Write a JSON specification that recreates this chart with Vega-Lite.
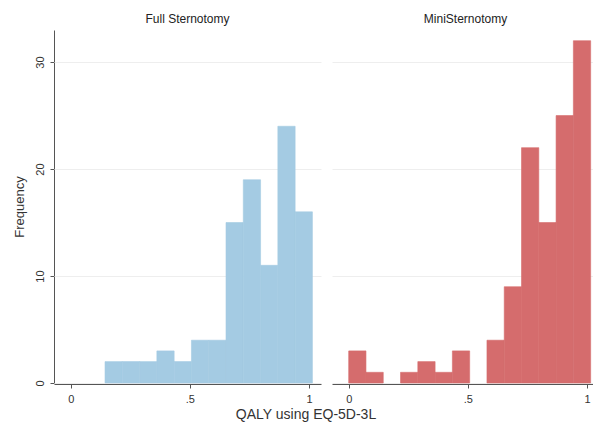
{
  "$schema": "https://vega.github.io/schema/vega-lite/v6.json",
  "background": "white",
  "padding": {"left": 13, "top": 13, "right": 0, "bottom": 3},
  "title": {"text": "QALY using EQ-5D-3L", "orient": "bottom", "anchor": "middle", "font": "Liberation Sans", "fontSize": 14, "fontWeight": "normal", "color": "#333", "offset": 4},
  "data": {"values": [
    {"panel": "Full Sternotomy", "x0": 0.144, "x1": 0.2165, "count": 2},
    {"panel": "Full Sternotomy", "x0": 0.2165, "x1": 0.289, "count": 2},
    {"panel": "Full Sternotomy", "x0": 0.289, "x1": 0.3615, "count": 2},
    {"panel": "Full Sternotomy", "x0": 0.3615, "x1": 0.434, "count": 3},
    {"panel": "Full Sternotomy", "x0": 0.434, "x1": 0.5065, "count": 2},
    {"panel": "Full Sternotomy", "x0": 0.5065, "x1": 0.579, "count": 4},
    {"panel": "Full Sternotomy", "x0": 0.579, "x1": 0.6515, "count": 4},
    {"panel": "Full Sternotomy", "x0": 0.6515, "x1": 0.724, "count": 15},
    {"panel": "Full Sternotomy", "x0": 0.724, "x1": 0.7965, "count": 19},
    {"panel": "Full Sternotomy", "x0": 0.7965, "x1": 0.869, "count": 11},
    {"panel": "Full Sternotomy", "x0": 0.869, "x1": 0.9415, "count": 24},
    {"panel": "Full Sternotomy", "x0": 0.9415, "x1": 1.014, "count": 16},
    {"panel": "MiniSternotomy", "x0": 0.0, "x1": 0.0725, "count": 3},
    {"panel": "MiniSternotomy", "x0": 0.0725, "x1": 0.145, "count": 1},
    {"panel": "MiniSternotomy", "x0": 0.2175, "x1": 0.29, "count": 1},
    {"panel": "MiniSternotomy", "x0": 0.29, "x1": 0.3625, "count": 2},
    {"panel": "MiniSternotomy", "x0": 0.3625, "x1": 0.435, "count": 1},
    {"panel": "MiniSternotomy", "x0": 0.435, "x1": 0.5075, "count": 3},
    {"panel": "MiniSternotomy", "x0": 0.58, "x1": 0.6525, "count": 4},
    {"panel": "MiniSternotomy", "x0": 0.6525, "x1": 0.725, "count": 9},
    {"panel": "MiniSternotomy", "x0": 0.725, "x1": 0.7975, "count": 22},
    {"panel": "MiniSternotomy", "x0": 0.7975, "x1": 0.87, "count": 15},
    {"panel": "MiniSternotomy", "x0": 0.87, "x1": 0.9425, "count": 25},
    {"panel": "MiniSternotomy", "x0": 0.9425, "x1": 1.015, "count": 32}
  ]},
  "facet": {
    "column": {
      "field": "panel", "type": "nominal",
      "sort": ["Full Sternotomy", "MiniSternotomy"],
      "header": {"title": null, "labelFont": "Liberation Sans", "labelFontSize": 12, "labelColor": "#222", "labelPadding": 4}
    }
  },
  "spacing": 11,
  "spec": {
    "width": 267,
    "height": 353,
    "mark": {"type": "bar", "strokeWidth": 0.6},
    "encoding": {
      "x": {"field": "x0", "type": "quantitative",
        "scale": {"domain": [-0.07, 1.05], "nice": false, "zero": false},
        "axis": {"values": [0, 0.5, 1], "labelExpr": "datum.value == 0.5 ? '.5' : (datum.value == 0 ? '0' : '1')", "title": null, "grid": false,
          "domainColor": "#555", "tickColor": "#555", "tickSize": 4, "labelFont": "Liberation Sans", "labelFontSize": 11, "labelColor": "#333", "labelPadding": 5}},
      "x2": {"field": "x1"},
      "y": {"field": "count", "type": "quantitative",
        "scale": {"domain": [0, 33], "nice": false},
        "axis": {"values": [0, 10, 20, 30], "title": "Frequency", "titleFont": "Liberation Sans", "titleFontSize": 13, "titleFontWeight": "normal", "titleColor": "#333", "titlePadding": 8,
          "labelAngle": -90, "labelAlign": "center", "labelBaseline": "bottom", "labelFont": "Liberation Sans", "labelFontSize": 11, "labelColor": "#333", "labelPadding": 5,
          "grid": true, "gridColor": "#eeeeee", "gridWidth": 1, "domainColor": "#555", "tickColor": "#555", "tickSize": 4}},
      "y2": {"datum": 0},
      "fill": {"field": "panel", "type": "nominal", "scale": {"domain": ["Full Sternotomy", "MiniSternotomy"], "range": ["#a4cbe3", "#d56c6d"]}, "legend": null},
      "stroke": {"field": "panel", "type": "nominal", "scale": {"domain": ["Full Sternotomy", "MiniSternotomy"], "range": ["#a4cbe3", "#d56c6d"]}, "legend": null}
    }
  },
  "config": {"view": {"stroke": null}, "axis": {"domainWidth": 1}}
}
